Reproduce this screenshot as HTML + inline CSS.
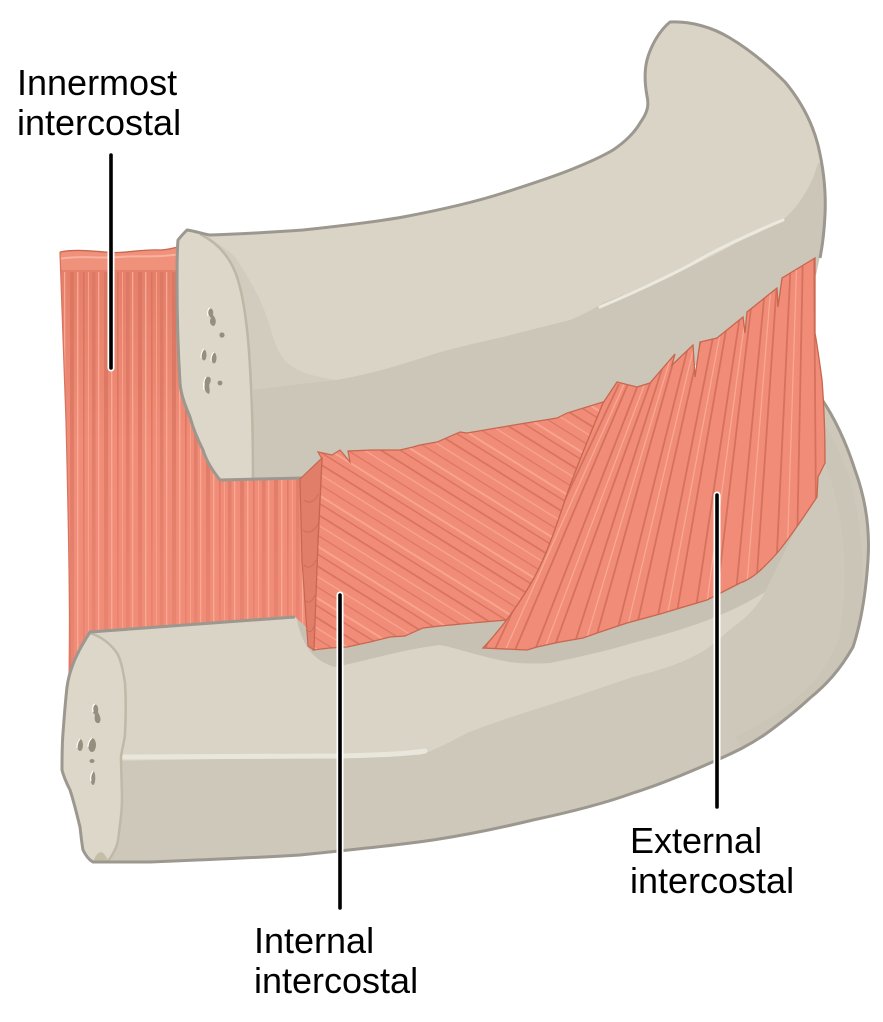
<!DOCTYPE html>
<html><head><meta charset="utf-8"><style>
html,body{margin:0;padding:0;background:#fff;}
svg{display:block;}
text{font-family:"Liberation Sans",Arial,sans-serif;font-size:36px;fill:#000;}
</style></head><body>
<svg width="883" height="1022" viewBox="0 0 883 1022" xmlns="http://www.w3.org/2000/svg">
<defs>
  <pattern id="pInnerDark" patternUnits="userSpaceOnUse" width="34" height="20">
    <rect x="2" y="0" width="4" height="20" fill="#da7762"/>
    <rect x="15" y="0" width="1.6" height="20" fill="#d8745f"/>
    <rect x="24" y="0" width="3.5" height="20" fill="#dc7964"/>
  </pattern>
  <pattern id="pInnerLight" patternUnits="userSpaceOnUse" width="34" height="20">
    <rect x="9" y="0" width="1.4" height="20" fill="#f8a994"/>
    <rect x="20" y="0" width="1" height="20" fill="#f6a18c"/>
    <rect x="30" y="0" width="1.3" height="20" fill="#f8a994"/>
  </pattern>
  <linearGradient id="gFade" x1="0" y1="272" x2="0" y2="700" gradientUnits="userSpaceOnUse">
    <stop offset="0" stop-color="#fff"/>
    <stop offset="0.3" stop-color="#ddd"/>
    <stop offset="1" stop-color="#333"/>
  </linearGradient>
  <mask id="mFade" maskUnits="userSpaceOnUse" x="40" y="240" width="300" height="460">
    <rect x="40" y="240" width="300" height="460" fill="url(#gFade)"/>
  </mask>
  <linearGradient id="gInnerTop" x1="0" y1="252" x2="0" y2="440" gradientUnits="userSpaceOnUse">
    <stop offset="0" stop-color="#e47e68"/>
    <stop offset="1" stop-color="#f08c77"/>
  </linearGradient>
  <pattern id="pInt" patternUnits="userSpaceOnUse" width="80" height="44" patternTransform="rotate(32)">
    <rect x="0" y="3" width="80" height="1.8" fill="#d8745f"/>
    <rect x="0" y="12" width="80" height="1.3" fill="#f7a590"/>
    <rect x="0" y="21" width="80" height="1.2" fill="#da7762"/>
    <rect x="0" y="30" width="80" height="2" fill="#f7a590"/>
    <rect x="0" y="37" width="80" height="1.4" fill="#d8745f"/>
  </pattern>
  <clipPath id="cInner">
    <path d="M60,252 C75,249 90,251 105,252 C125,254 140,249 160,250 C168,250 175,247 185,246 L300,470 L318,640 L68,692 C70,600 68,500 66,420 C64,350 62,300 60,252 Z"/>
  </clipPath>
  <clipPath id="cInt">
    <path id="intShape" d="M322,459 L318,452 L332,455 L340,450 L350,462 L348,451 L372,450 L400,450 L413,447 L420,445 L437,442 L460,432 L467,433 L520,424 L557,418 L567,413 L603,402 L640,392 L700,380 L720,560 L600,612 L507,620 L483,622 L440,626 L423,628 L405,636 L390,637 L370,642 L347,647 L330,648 L313,650 Z"/>
  </clipPath>
  <clipPath id="cExt">
    <path id="extShape" d="M483,648 C500,630 515,610 530,585 C545,560 555,530 565,500 C575,470 590,435 603,403 L617,382 L637,387 L650,383 L675,354 L672,365 L693,345 L695,377 L700,342 L717,338 L743,317 L745,333 L747,312 L777,288 L778,307 L782,278 L815,258 L815,333 C818,350 820,365 822,380 C824,405 825,430 825,463 L818,477 L817,497 C805,515 792,535 778,552 C762,570 752,579 740,583 L707,600 L660,614 L627,623 L600,632 L583,638 L560,642 L537,647 L527,650 Z"/>
  </clipPath>
  <clipPath id="cLower">
    <path d="M90,632 L295,617 L320,640 L500,600 L700,500 L815,395 C830,410 845,440 855,470 C866,500 870,530 868,560 C866,590 862,620 853,647 C840,670 826,685 810,698 C795,712 782,722 767,733 C750,745 735,752 717,760 C690,772 662,784 633,793 C600,805 566,813 533,820 C500,828 466,835 433,840 C400,845 350,850 300,855 C250,858 200,860 150,862 L93,862 C89,860 86,856 83,850 C82,845 81,836 80,827 C77,815 74,802 70,790 C67,784 64,778 62,770 C62,760 62,745 63,733 C64,720 65,705 67,687 C68,680 69,675 72,667 C76,655 82,645 90,632 Z"/>
  </clipPath>
  <clipPath id="cUpper">
    <path d="M187,230 C195,231 203,234 210,235 C240,234 275,232 303,230 C340,226 375,222 403,217 C440,210 475,202 503,193 C528,185 550,178 570,170 C590,162 603,156 613,150 C625,142 635,132 640,123 C648,112 649,105 647,96 C645,85 644,72 647,60 C651,45 660,30 670,22 C690,21 712,27 730,38 C750,50 768,65 785,82 C800,100 812,122 818,145 C824,170 826,195 825,215 C824,235 822,248 820,256 L816,275 L780,300 L700,362 L650,400 L610,415 L560,432 L420,457 L330,470 L303,478 L220,480 C212,470 206,460 203,450 C197,438 193,428 190,417 C185,405 181,395 180,383 C178,350 177,315 177,283 C177,265 177,250 178,240 C181,236 184,233 187,230 Z"/>
  </clipPath>
</defs>

<!-- ===== Innermost intercostal (back layer) ===== -->
<g clip-path="url(#cInner)">
  <rect x="40" y="240" width="300" height="460" fill="url(#gInnerTop)"/>
  <rect x="40" y="272" width="300" height="430" fill="url(#pInnerDark)" mask="url(#mFade)"/>
  <rect x="40" y="272" width="300" height="430" fill="url(#pInnerLight)"/>
  <rect x="40" y="240" width="300" height="30" fill="#f0917b"/>
  <path d="M58,259 C80,255 100,259 120,257 C140,255 160,259 190,252" fill="none" stroke="#f8b3a0" stroke-width="2"/>
</g>
<path d="M60,252 C75,249 90,251 105,252 C125,254 140,249 160,250 C168,250 175,247 185,246" fill="none" stroke="#c8664f" stroke-width="1.3"/>
<path d="M60,252 C62,300 64,350 66,420 C68,500 70,600 70,680" fill="none" stroke="#d8745f" stroke-width="1.3"/>

<!-- ===== Lower rib ===== -->
<g clip-path="url(#cLower)">
  <rect x="50" y="380" width="830" height="490" fill="#cdc8ba"/>
  <path d="M283,600 L283,617 C295,645 305,662 335,667 C370,660 400,650 440,645 C465,650 490,660 517,663 L550,663 C580,657 610,650 633,643 C660,636 680,630 700,623 C725,614 748,603 765,592 L800,520 L700,560 Z" fill="#c6c1b2"/>
  <path d="M60,628 L296,614 C300,640 310,660 335,667 C370,660 400,650 440,645 C465,650 490,660 517,663 C530,664 540,664 550,663 C580,657 610,650 633,643 C660,636 680,630 700,623 C725,614 748,603 765,592 C757,607 746,618 733,627 C720,638 712,646 700,653 C680,664 660,670 633,677 C600,688 566,700 533,710 C505,719 485,726 467,733 C450,742 435,750 420,755 L60,762 Z" fill="#d9d4c6"/>
  <path d="M122,757 L340,756 C380,755 405,754 425,751" fill="none" stroke="#e9e6dc" stroke-width="5" stroke-linecap="round"/>
  <path d="M810,420 C850,470 862,560 848,640 C830,690 790,720 740,745" fill="none" stroke="#c8c3b5" stroke-width="18" opacity="0.6"/>
</g>
<!-- lower rib cut face -->
<path d="M90,632 C82,645 76,655 72,667 C69,675 68,680 67,687 C65,705 64,720 63,733 C62,745 62,760 62,770 C64,778 67,784 70,790 C74,802 77,815 80,827 C81,836 82,845 83,850 C86,856 89,860 93,862 L110,860 C114,853 117,847 118,840 C120,825 122,812 122,800 C122,785 121,770 121,757 C122,748 125,740 125,733 C126,715 126,698 125,683 C123,670 121,660 117,653 C110,643 100,636 90,632 Z" fill="#dcd7c9"/>
<path d="M90,633 C100,636 110,643 117,653 C121,660 123,670 125,683 C126,698 126,715 125,733 C125,740 122,748 121,757 C121,770 122,785 122,800 C122,812 120,825 118,840 C117,847 114,853 108,861" fill="none" stroke="#bfb9a8" stroke-width="2.5"/>
<path d="M93,862 L108,861 C104,850 98,848 93,862 Z" fill="#c4bea9"/>
<!-- holes lower -->
<g fill="#958f7f">
  <path d="M94,705 C97,703 99,708 98,712 C100,716 102,720 99,723 C95,724 94,719 95,715 C92,712 91,707 94,705 Z"/>
  <ellipse cx="80" cy="745" rx="3" ry="6"/>
  <ellipse cx="92" cy="745" rx="4" ry="7"/>
  <ellipse cx="92" cy="761" rx="2.5" ry="2"/>
  <ellipse cx="93" cy="778" rx="2.3" ry="7"/>
</g>
<g fill="none" stroke="#ffffff" stroke-width="1.2">
  <path d="M93,712 C92,708 93,705 95,704"/>
  <path d="M77,748 C77,744 78,741 80,739"/>
  <path d="M88,747 C88,743 90,739 92,738"/>
  <path d="M91,781 C90,777 91,774 93,771"/>
</g>
<!-- lower rib outline (visible part) -->
<path d="M295,617 L90,632 C82,645 76,655 72,667 C69,675 68,680 67,687 C65,705 64,720 63,733 C62,745 62,760 62,770 C64,778 67,784 70,790 C74,802 77,815 80,827 C81,836 82,845 83,850 C86,856 89,860 93,862 L150,862 C200,860 250,858 300,855 C350,850 400,845 433,840 C466,835 500,828 533,820 C566,813 600,805 633,793 C662,784 690,772 717,760 C735,752 750,745 767,733 C782,722 795,712 810,698 C826,685 840,670 853,647 C862,620 866,590 868,560 C870,530 866,500 855,470 C847,445 836,420 821,398" fill="none" stroke="#9c988f" stroke-width="3" stroke-linejoin="round"/>

<!-- ===== Upper rib ===== -->
<g clip-path="url(#cUpper)">
  <rect x="170" y="15" width="665" height="470" fill="#d9d4c5"/>
  <path d="M207,237 C220,245 232,252 237,260 C250,280 262,300 270,327 C275,345 280,357 290,365 C300,372 310,376 337,380 L253,392 Z" fill="#d1ccbe"/>
  <path d="M253,390 C290,385 310,383 337,380 C380,372 410,362 437,353 C460,347 480,342 503,337 C530,330 550,325 570,320 C585,314 595,308 603,303 C620,296 635,290 650,283 C680,272 710,258 736,243 C760,232 775,225 783,220 C800,205 812,185 818,163 L840,160 L840,500 L253,500 Z" fill="#cbc6b7"/>
  <path d="M600,307 C640,290 665,278 690,265 C712,252 740,238 783,220" fill="none" stroke="#ebe8de" stroke-width="3" stroke-linecap="round"/>
</g>
<!-- upper rib cut face -->
<path d="M187,230 C184,233 181,236 178,240 C177,250 177,265 177,283 C177,315 178,350 180,383 C181,395 185,405 190,417 C193,428 197,438 203,450 C206,460 212,470 220,480 L253,478 C253,440 252,400 250,367 C248,330 244,300 238,280 C232,260 222,245 207,237 C200,234 193,231 187,230 Z" fill="#dcd7c9"/>
<path d="M200,234 C220,244 232,260 238,280 C244,300 248,330 250,367 C252,400 253,440 253,478" fill="none" stroke="#bdb7a6" stroke-width="2.5"/>
<!-- holes upper -->
<g fill="#958f7f">
  <path d="M209,309 C212,307 214,311 213,315 C216,318 217,323 214,326 C210,326 209,321 211,318 C208,315 207,311 209,309 Z"/>
  <circle cx="222" cy="335" r="2.6"/>
  <ellipse cx="204" cy="355" rx="2.5" ry="5.5"/>
  <ellipse cx="214" cy="358" rx="2.5" ry="5.5"/>
  <path d="M207,377 C210,376 212,379 210,383 C208,386 211,390 209,394 C205,393 204,388 205,384 C204,381 205,378 207,377 Z"/>
  <circle cx="220" cy="383" r="2.4"/>
</g>
<g fill="none" stroke="#ffffff" stroke-width="1.1">
  <path d="M208,316 C207,312 208,309 210,308"/>
  <path d="M201,358 C201,354 202,351 204,349"/>
  <path d="M211,361 C211,357 212,354 214,352"/>
  <path d="M204,390 C203,385 204,380 206,377"/>
</g>
<!-- upper rib outline (visible part) -->
<path d="M303,478 L220,480 C212,470 206,460 203,450 C197,438 193,428 190,417 C185,405 181,395 180,383 C178,350 177,315 177,283 C177,265 177,250 178,240 C181,236 184,233 187,230 C195,231 203,234 210,235 C240,234 275,232 303,230 C340,226 375,222 403,217 C440,210 475,202 503,193 C528,185 550,178 570,170 C590,162 603,156 613,150 C625,142 635,132 640,123 C648,112 649,105 647,96 C645,85 644,72 647,60 C651,45 660,30 670,22 C690,21 712,27 730,38 C750,50 768,65 785,82 C800,100 812,122 818,145 C824,170 826,195 825,215 C824,235 822,248 820,258" fill="none" stroke="#9c988f" stroke-width="3" stroke-linejoin="round"/>

<!-- ===== Internal intercostal ===== -->
<g clip-path="url(#cInt)">
  <rect x="290" y="380" width="440" height="280" fill="#f08c77"/>
  <rect x="290" y="380" width="440" height="280" fill="url(#pInt)"/>
</g>
<use href="#intShape" fill="none" stroke="#c8664f" stroke-width="1.2"/>
<!-- front (cut) face -->
<path d="M300,479 L322,458 L318,540 L314,650 L308,646 L302,560 Z" fill="#e17e69" stroke="#c8664f" stroke-width="1.2"/>
<g fill="none" stroke="#d06c57" stroke-width="1">
  <path d="M304,500 C310,505 316,500 318,494"/>
  <path d="M303,530 C309,535 315,530 318,524"/>
  <path d="M304,565 C309,570 314,565 316,560"/>
  <path d="M305,600 C309,605 313,600 315,595"/>
  <path d="M306,630 C310,634 313,630 314,626"/>
</g>

<!-- ===== External intercostal ===== -->
<g clip-path="url(#cExt)">
  <rect x="470" y="250" width="370" height="410" fill="#f08c77"/>
  <g stroke="#d5725d" stroke-width="1.8" fill="none">
    <line x1="478" y1="664" x2="606" y2="390"/>
    <line x1="489" y1="662" x2="619" y2="384"/>
    <line x1="510" y1="662" x2="630" y2="379"/>
    <line x1="530" y1="663" x2="643" y2="372"/>
    <line x1="550" y1="659" x2="656" y2="367"/>
    <line x1="571" y1="655" x2="667" y2="353"/>
    <line x1="592" y1="652" x2="680" y2="338"/>
    <line x1="613" y1="648" x2="692" y2="331"/>
    <line x1="633" y1="643" x2="704" y2="326"/>
    <line x1="654" y1="636" x2="716" y2="322"/>
    <line x1="674" y1="629" x2="729" y2="313"/>
    <line x1="694" y1="621" x2="742" y2="302"/>
    <line x1="715" y1="612" x2="753" y2="291"/>
    <line x1="735" y1="603" x2="766" y2="278"/>
    <line x1="756" y1="589" x2="778" y2="266"/>
    <line x1="776" y1="573" x2="791" y2="257"/>
    <line x1="797" y1="550" x2="803" y2="250"/>
    <line x1="816" y1="520" x2="814" y2="250"/>
  </g>
  <g stroke="#f8a994" stroke-width="1.3" fill="none">
    <line x1="500" y1="662" x2="625" y2="382"/>
    <line x1="540" y1="661" x2="650" y2="370"/>
    <line x1="582" y1="654" x2="674" y2="346"/>
    <line x1="623" y1="646" x2="698" y2="329"/>
    <line x1="664" y1="633" x2="723" y2="318"/>
    <line x1="705" y1="617" x2="748" y2="297"/>
    <line x1="746" y1="596" x2="772" y2="272"/>
    <line x1="787" y1="562" x2="797" y2="254"/>
  </g>
</g>
<use href="#extShape" fill="none" stroke="#c8664f" stroke-width="1.3"/>

<!-- ===== Leader lines ===== -->
<g stroke-linecap="round" fill="none">
  <line x1="111" y1="155" x2="111" y2="368" stroke="#fff" stroke-width="7"/>
  <line x1="111" y1="155" x2="111" y2="368" stroke="#000" stroke-width="3.6"/>
  <line x1="340" y1="595" x2="340" y2="908" stroke="#fff" stroke-width="7"/>
  <line x1="340" y1="595" x2="340" y2="908" stroke="#000" stroke-width="3.6"/>
  <line x1="717" y1="495" x2="717" y2="807" stroke="#fff" stroke-width="7"/>
  <line x1="717" y1="495" x2="717" y2="807" stroke="#000" stroke-width="3.6"/>
</g>

<!-- ===== Labels ===== -->
<text x="17" y="95">Innermost</text>
<text x="17" y="135">intercostal</text>
<text x="254" y="953">Internal</text>
<text x="254" y="993">intercostal</text>
<text x="630" y="853">External</text>
<text x="630" y="893">intercostal</text>
</svg>
</body></html>
